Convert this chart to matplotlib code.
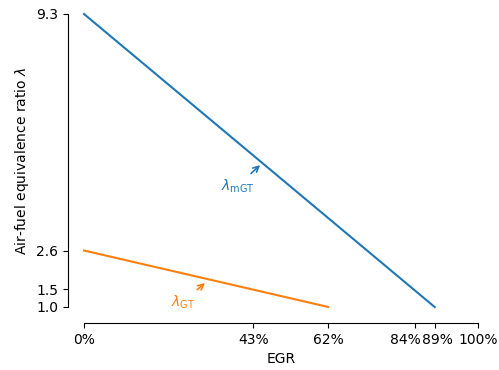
import numpy as np
import matplotlib
matplotlib.use("Agg")
import matplotlib.pyplot as plt
import matplotlib.transforms as mtransforms

# EGR fraction and lambda values at line endpoints
egr_mgt = [0.0, 0.89]
lam_mgt = [9.3, 1.0]
egr_gt = [0.0, 0.62]
lam_gt = [2.6, 1.0]

xticks = [0.0, 0.43, 0.62, 0.84, 0.89, 1.0]
xticklabels = ["0%", "43%", "62%", "84%", "89%", "100%"]
yticks = [1.0, 1.5, 2.6, 9.3]
yticklabels = ["1.0", "1.5", "2.6", "9.3"]

fig = plt.figure(figsize=(4.99, 3.70), dpi=100)
ax = fig.add_axes([0.1683, 0.1703, 0.7896, 0.7919])

ax.plot(egr_mgt, lam_mgt, color="tab:blue", lw=1.5, clip_on=False)
ax.plot(egr_gt, lam_gt, color="tab:orange", lw=1.5, clip_on=False)

ax.annotate(r"$\lambda_{\mathrm{mGT}}$", xy=(0.447, 5.02), xytext=(0.39, 4.43),
            color="tab:blue", fontsize=10, ha="center", va="center",
            arrowprops=dict(arrowstyle="->", color="tab:blue", lw=1.2,
                            shrinkA=1, shrinkB=0))
ax.annotate(r"$\lambda_{\mathrm{GT}}$", xy=(0.307, 1.68), xytext=(0.251, 1.14),
            color="tab:orange", fontsize=10, ha="center", va="center",
            arrowprops=dict(arrowstyle="->", color="tab:orange", lw=1.2,
                            shrinkA=1, shrinkB=0))

for s in ["top", "right"]:
    ax.spines[s].set_visible(False)
ax.spines["left"].set_position(("outward", 11.5))
ax.spines["bottom"].set_position(("outward", 11.5))

ax.set_xlim(0, 1)
ax.set_ylim(1.0, 9.3)
ax.set_xticks(xticks)
ax.set_xticklabels(xticklabels)
ax.set_yticks(yticks)
ax.set_yticklabels(yticklabels)
ax.set_xlabel("EGR")
ax.set_ylabel(r"Air-fuel equivalence ratio $\lambda$")

# nudge the crowded labels apart (after spine moves, which reset ticks)
shifts = {"84%": -10, "89%": 3}
for lab in ax.get_xticklabels():
    dx = shifts.get(lab.get_text(), 0)
    if dx:
        off = mtransforms.ScaledTranslation(dx / 100, 0, fig.dpi_scale_trans)
        lab.set_transform(lab.get_transform() + off)

fig.savefig("out.png", dpi=100)
